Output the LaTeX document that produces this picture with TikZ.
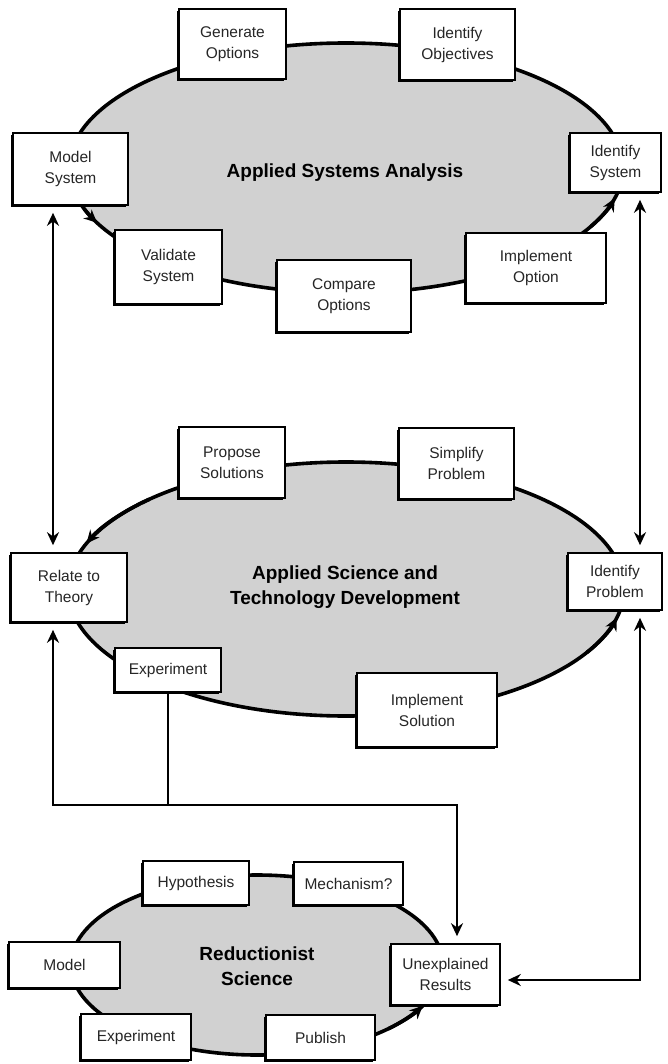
\documentclass[tikz,border=0pt]{standalone}
\usepackage{fontspec}
\setmainfont{Liberation Sans}
\usepackage{tikz}
\usetikzlibrary{arrows.meta, shadows, positioning}
\tikzset{>={Stealth[length=13pt,width=12pt]}}
\tikzset{
  actbox/.style={draw, fill=white, line width=1.6pt, align=center, inner sep=0pt,
    text=black!85, font=\fontsize{15.5}{21}\selectfont,
    drop shadow={shadow xshift=-2.2pt, shadow yshift=-2.2pt, fill=black, opacity=1}},
  cyclering/.style={line width=3.6pt, draw=black, fill=black!18},
  ringarrow/.style={line width=3.6pt, ->},
  ringtitle/.style={font=\fontsize{19}{25}\bfseries\selectfont, align=center},
  link/.style={line width=2.6pt, shorten >=7pt, shorten <=7pt}
}

\begin{document}
\begin{tikzpicture}[x=1pt,y=-1pt]
\useasboundingbox (0,0) rectangle (667,1064);
% the three rings
\coordinate (ctop) at (346,168);
\coordinate (cmid) at (346,589);
\coordinate (cbot) at (257,965);
\filldraw [cyclering] (ctop) ellipse [x radius=277, y radius=125];
\filldraw [cyclering] (cmid) ellipse [x radius=278, y radius=127];
\filldraw [cyclering] (cbot) ellipse [x radius=186, y radius=90];
\node [ringtitle] (tsys) at (345,173) {Applied Systems Analysis};
\node [ringtitle] (tsci) at (345,587) {Applied Science and\\Technology Development};
\node [ringtitle] (tred) at (257,966) {Reductionist\\Science};

% applied systems analysis
\node [actbox, minimum width=107pt, minimum height=70pt] (genopt) at (232.5,44) {Generate\\Options};
\node [actbox, minimum width=115pt, minimum height=71pt] (idobj) at (457.5,44.5) {Identify\\Objectives};
\node [actbox, minimum width=115pt, minimum height=72pt] (modsys) at (70.5,169) {Model\\System};
\node [actbox, minimum width=91pt, minimum height=59pt] (idsys) at (615.5,162.5) {Identify\\System};
\node [actbox, minimum width=107pt, minimum height=74pt] (valsys) at (168.5,267) {Validate\\System};
\node [actbox, minimum width=134pt, minimum height=72pt] (cmpopt) at (344,296) {Compare\\Options};
\node [actbox, minimum width=140pt, minimum height=70pt] (impopt) at (536,268) {Implement\\Option};

% applied science and technology development
\node [actbox, minimum width=106pt, minimum height=71pt] (propsol) at (232,462.5) {Propose\\Solutions};
\node [actbox, minimum width=115pt, minimum height=71pt] (simprob) at (456.5,463.5) {Simplify\\Problem};
\node [actbox, minimum width=116pt, minimum height=69pt] (relth) at (69,587.5) {Relate to\\Theory};
\node [actbox, minimum width=94pt, minimum height=57pt] (idprob) at (615,581.5) {Identify\\Problem};
\node [actbox, minimum width=106pt, minimum height=44pt] (expmid) at (168,670) {Experiment};
\node [actbox, minimum width=140pt, minimum height=74pt] (impsol) at (427,710) {Implement\\Solution};

% reductionist science
\node [actbox, minimum width=106pt, minimum height=44pt] (hypo) at (196,883) {Hypothesis};
\node [actbox, minimum width=109pt, minimum height=43pt] (mech) at (348.5,883.5) {Mechanism?};
\node [actbox, minimum width=111pt, minimum height=46pt] (model) at (64.5,965) {Model};
\node [actbox, minimum width=109pt, minimum height=61pt] (unexp) at (445.5,974.5) {Unexplained\\Results};
\node [actbox, minimum width=110pt, minimum height=46pt] (expbot) at (136,1037) {Experiment};
\node [actbox, minimum width=109pt, minimum height=45pt] (publ) at (320.5,1037.5) {Publish};

% direction of flow round the rings
\draw [ringarrow] (ctop) ++(161:277 and 125) arc [start angle=161, end angle=154, x radius=277, y radius=125];
\draw [ringarrow] (ctop) ++(28:277 and 125) arc [start angle=28, end angle=14, x radius=277, y radius=125];
\draw [ringarrow] (cmid) ++(225:278 and 127) arc [start angle=225, end angle=201, x radius=278, y radius=127];
\draw [ringarrow] (cmid) ++(30:278 and 127) arc [start angle=30, end angle=13, x radius=278, y radius=127];
\draw [ringarrow] (cbot) ++(45:186 and 90) arc [start angle=45, end angle=27, x radius=186, y radius=90];

% links between the rings
\coordinate (lx) at (53,805);
\coordinate (mx) at (457,805);
\coordinate (rx) at (640,980);
\draw [link,<->] (modsys.south -| lx) -- (relth.north -| lx);
\draw [link,<->] (idsys.south -| rx) -- (idprob.north -| rx);
\draw [link,<->] (relth.south -| lx) -- (lx) -- (mx) -- (unexp.north -| mx);
\draw [line width=2.6pt] (expmid.south) -- (expmid.south |- lx);
\draw [link,<->] (idprob.south -| rx) -- (rx) -- (rx -| unexp.east);
\end{tikzpicture}
\end{document}
